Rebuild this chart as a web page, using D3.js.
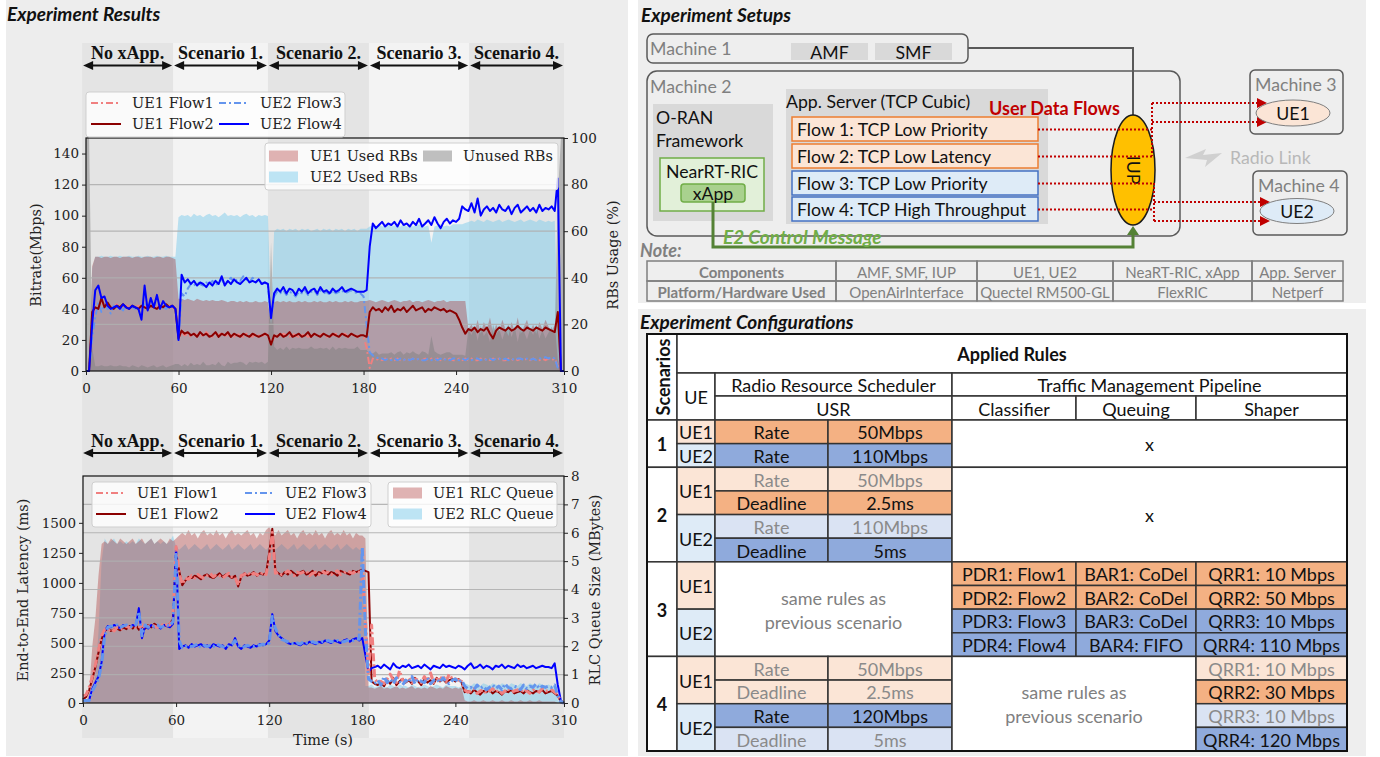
<!DOCTYPE html>
<html>
<head>
<meta charset="utf-8">
<script src="https://cdn.jsdelivr.net/npm/d3@7"></script>
<style>
  body { margin: 0; background: #fff; }
  svg { display: block; }
</style>
</head>
<body>
<svg id="fig" width="1380" height="757"></svg>
<script>
// ---------------------------------------------------------------- data
var TIME_S = [
  0,2,4,6,8,10,12,14,16,18,20,22,24,26,28,30,32,34,36,38,40,42,44,46,48,50,52,54,56,58,
  60,62,64,66,68,70,72,74,76,78,80,82,84,86,88,90,92,94,96,98,100,102,104,106,108,110,112,114,116,118,
  120,122,124,126,128,130,132,134,136,138,140,142,144,146,148,150,152,154,156,158,160,162,164,166,168,170,172,174,176,178,
  180,182,184,186,188,190,192,194,196,198,200,202,204,206,208,210,212,214,216,218,220,222,224,226,228,230,232,234,236,238,
  240,242,244,246,248,250,252,254,256,258,260,262,264,266,268,270,272,274,276,278,280,282,284,286,288,290,292,294,296,298,
  300,302,304,306,308,310
];

var SCENARIO_LABELS = ["No xApp.", "Scenario 1.", "Scenario 2.", "Scenario 3.", "Scenario 4."];
var SCENARIO_EDGES_S = [-2.5, 56.5, 118, 183.5, 248.5, 310];
var TIME_TICKS = [0, 60, 120, 180, 240, 310];
var RATE_TICKS = [0, 20, 40, 60, 80, 100, 120, 140];
var RB_TICKS = [0, 20, 40, 60, 80, 100];
var LAT_TICKS = [0, 250, 500, 750, 1000, 1250, 1500];
var RLC_TICKS = [0, 1, 2, 3, 4, 5, 6, 7, 8];

// bitrate (Mbps)
var RATE_UE1_FLOW1 = [
  0,0,32,40,42,44,43,40,42,41, 43,40,42,41,43,40,41,42,40,42, 41,43,40,41,42,40,41,42,41,40,
  21,25,23,24,22,24,23,24,22,25, 23,22,24,23,25,22,24,23,22,24, 23,22,24,23,22,24,23,22,24,23,
  18,22,23,22,24,23,22,24,23,22, 23,24,22,23,24,22,23,24,22,23, 23,24,22,23,24,22,23,24,22,23,
  22,15,2,8,7,8,7,8,7,8, 7,8,7,7,8,7,8,7,8,7, 8,7,8,7,8,7,8,7,8,7,
  7,8,7,8,7,8,7,7,8,7, 8,7,8,7,8,7,7,8,7,8, 7,8,7,8,7,8,7,7,8,7,
  8,7,8,3,0,0];
var RATE_UE1_FLOW2 = [
  0,0,38,41,40,47,41,44,41,40, 42,41,43,41,40,42,41,40,42,41, 40,42,41,40,42,41,43,41,42,40,
  21,26,24,25,23,24,22,25,23,24, 22,23,25,22,24,23,25,22,24,23, 22,24,23,22,24,23,22,23,24,23,
  17,23,22,24,22,23,25,22,23,24, 22,23,25,22,24,23,22,24,23,22, 24,23,22,24,23,22,24,23,22,23,
  23,22,38,41,39,40,38,41,39,42, 38,40,39,41,38,40,42,39,40,41, 38,40,39,41,40,39,40,38,39,38,
  37,33,28,24,27,26,28,25,27,26, 28,24,21,26,28,27,26,28,26,27, 29,27,26,28,27,26,28,27,26,28,
  27,26,25,38,0,0];
var RATE_UE2_FLOW3 = [
  0,0,22,35,44,38,43,40,37,42, 40,41,39,42,40,41,40,42,39,43, 40,42,41,40,42,41,40,42,41,40,
  20,50,48,53,56,55,57,56,55,57, 56,58,55,57,59,56,58,60,57,59, 58,61,59,57,60,58,57,56,57,55,
  35,48,51,50,52,49,51,50,48,51, 50,52,49,51,52,49,52,50,51,49, 52,50,51,52,50,51,52,51,50,50,
  48,30,12,10,9,8,8,7,8,7, 8,7,8,7,8,7,8,7,8,7, 7,8,7,8,7,8,7,8,7,8,
  8,7,8,7,8,7,8,8,7,8, 7,8,7,8,8,7,8,7,8,7, 8,8,7,8,7,8,7,8,8,9,
  8,9,8,2,0,0];
var RATE_UE2_FLOW4 = [
  0,0,30,52,55,47,48,42,40,41, 42,40,43,41,40,42,41,40,33,55, 39,47,41,49,40,45,42,41,42,40,
  20,62,57,59,56,58,55,57,56,54, 57,55,58,56,61,55,58,56,59,57, 56,58,60,57,58,57,59,56,57,56,
  34,50,53,51,54,50,53,52,49,53, 51,54,50,52,53,50,54,51,52,50, 53,51,52,54,51,52,53,52,51,51,
  51,52,80,95,92,94,96,93,95,94, 96,93,97,94,95,93,96,94,98,93, 95,97,94,99,95,92,96,98,95,97,
  96,98,106,104,103,108,102,111,100,104, 106,103,105,102,107,104,103,106,101,105, 107,102,104,106,103,105,102,107,103,105,
  104,106,103,124,0,0];

// resource block usage (%)
var RB_UE1 = [
  0,0,45,49,49,48.5,49,49,48.5,49, 49,48.5,49,49,49,48.5,49,49,48.5,49, 49,49,48.5,49,49,48.5,49,49,48.5,48,
  31,31,30.5,31,30.5,30,31,30.5,30,30.5, 30,30.5,30,30,30.5,30,29.5,30,30,29.5, 30,29.5,30,29.5,29.5,30,29.5,29.5,30,29.5,
  20,29.5,30,29.5,30,29.5,30,29.5,29.5,30, 29.5,30,29.5,29.5,30,29.5,30,29.5,29.5,30, 29.5,30,29.5,29.5,30,29.5,30,29.5,29.5,30,
  30,30,30.5,30,29.5,30,30.5,30,29.5,30, 30.5,30,29.5,30,30,30.5,29.5,30,30,29.5, 30,30.5,30,29.5,30,30,30.5,29.5,30,30,
  30,30,30,30,18,20,17,22,16,21, 18,23,16,20,17,22,18,15,21,17, 23,16,19,22,17,20,16,21,18,22,
  19,17,20,5,0,0];
var RB_UE2 = [
  0,0,44,49,49,49.5,49,49,49.5,49, 49,49.5,49,49,49.5,49,49,49.5,49,49, 49.5,49,49,49.5,49,49,49.5,49,49,49,
  66,67,66.5,67,66,67.5,66.5,67,66,67, 67.5,66.5,67,66,67,68,66.5,67,66.5,67, 66,67,67.5,66.5,67,66,67,66.5,67,66.5,
  25,60,61,60.5,61,60,61,60.5,61,60, 61,60.5,61,60,60.5,61,60,61,60.5,61, 60,61,60.5,61,60,61,60.5,61,60,61,
  61,61,62,62.5,62,63,62,62.5,63,62, 62.5,62,62,63,62,62.5,62,62.5,63,62, 62,62.5,55,62,62.5,63,62,62.5,62,63,
  63,63,63,63.5,64,64.5,64,65,64.5,64, 65,64.5,64,64.5,65,64,64.5,65,64.5,64, 64.5,65,64,64.5,65,64.5,64,65,64.5,64,
  64.5,64,64.5,20,0,0];
var RB_UNUSED = [
  100,100,10,2,2,2.5,2,2,2.5,2, 2,2.5,2,2,1.5,2.5,2,1.5,2.5,2, 1.5,2,2.5,1.5,2,2.5,1.5,2,2.5,3,
  3,2,3,2,3.5,2.5,3,2.5,4,2.5, 2.5,3,2.5,4,2.5,2,4,3,3.5,3.5, 4,3.5,2.5,4,3.5,4,3.5,4,3,4,
  55,10.5,9,10,9,10.5,9,10,9.5,10, 9.5,9.5,9.5,10.5,9.5,9.5,10,9.5,10,9, 10.5,9,10,9.5,10,9.5,9.5,9.5,10.5,9,
  9,9,7.5,7.5,8.5,7,7.5,7.5,7.5,8, 7,8,8.5,7,8,7.5,8.5,7.5,7,8.5, 8,7,15,8.5,7.5,7,7.5,8,8,7,
  7,7,7,6.5,18,15.5,19,13,19.5,15, 17,12.5,20,15.5,18,13.5,17.5,20,14.5,19, 12.5,19,17,13.5,18,15.5,20,14,17.5,14,
  16.5,19,15.5,75,100,100];

// end-to-end latency (ms)
var LAT_UE1_FLOW1 = [
  60,70,130,220,320,440,560,610,600,620, 600,630,615,620,640,625,640,630,620,650, 630,640,650,640,630,660,640,650,650,720,
  1300,1080,990,1040,1030,1060,1040,1070,1050,1040, 1060,1080,1050,1070,1060,1040,1060,1080,1050,1050, 980,1060,1070,1090,1060,1080,1070,1060,1090,1070,
  1200,1420,1080,1090,1070,1080,1100,1080,1060,1090, 1080,1090,1100,1060,1080,1090,1070,1100,1080,1090, 1070,1090,1100,1070,1080,1100,1090,1080,1100,1090,
  1080,700,250,650,200,170,180,160,200,240, 190,170,270,190,180,210,170,200,190,170, 220,180,250,170,200,190,230,180,240,200,
  200,190,180,110,90,100,120,80,100,110, 80,100,120,90,110,80,100,120,90,100, 110,90,120,100,80,110,100,90,120,100,
  100,110,90,70,10,0];
var LAT_UE1_FLOW2 = [
  30,50,110,200,300,420,530,600,620,600, 610,620,605,630,615,640,620,650,610,640, 620,650,630,660,640,630,650,640,660,700,
  1250,1100,980,1020,1050,1040,1060,1050,1030,1060, 1070,1050,1040,1060,1080,1050,1070,1060,1040,1060, 970,1050,1080,1060,1070,1090,1060,1080,1070,1080,
  1250,1450,1100,1080,1060,1090,1070,1100,1080,1060, 1090,1100,1070,1080,1100,1060,1090,1080,1100,1070, 1090,1080,1060,1100,1090,1080,1070,1100,1090,1100,
  1110,1100,1090,180,160,150,170,140,190,160, 210,150,180,200,170,190,160,210,180,150, 200,170,190,160,210,180,200,170,190,200,
  180,200,170,90,100,80,110,90,70,100, 90,110,80,100,90,70,100,90,110,80, 90,100,80,110,90,80,100,90,110,80,
  90,100,80,60,10,0];
var LAT_UE2_FLOW3 = [
  20,20,20,100,150,200,320,560,630,640, 640,650,630,640,650,640,630,650,760,560, 650,630,640,640,650,630,640,650,640,680,
  1250,520,460,470,480,470,480,490,460,480, 470,480,470,490,480,470,460,480,490,520, 480,460,470,480,470,470,480,480,490,480,
  500,720,620,570,530,520,510,500,490,500, 490,510,500,500,510,500,500,510,510,520, 510,510,520,510,510,520,520,520,530,530,
  1300,600,200,180,160,190,150,220,170,200, 160,210,180,150,190,170,220,160,200,180, 170,210,160,190,200,170,210,180,160,190,
  200,170,190,140,120,130,110,150,120,140, 110,130,150,120,140,110,160,130,120,140, 130,110,150,120,140,130,160,120,140,130,
  140,130,150,60,10,0];
var LAT_UE2_FLOW4 = [
  20,20,25,120,170,220,340,600,640,630, 650,640,620,650,640,630,650,640,790,540, 640,620,650,630,640,620,650,640,630,660,
  1300,450,470,480,460,490,470,480,490,470, 480,460,490,480,470,480,450,490,480,540, 470,450,480,470,460,480,470,490,480,490,
  520,740,600,560,540,520,500,490,500,490, 480,500,490,510,500,490,510,500,520,510, 500,520,510,500,520,530,510,530,540,520,
  540,400,260,290,300,310,290,320,300,280, 330,300,290,310,300,320,290,300,310,290, 320,300,280,310,300,290,320,300,310,300,
  290,310,300,280,310,330,290,300,320,290, 310,300,280,310,300,320,290,310,300,290, 320,300,310,290,300,310,290,300,310,300,
  300,290,330,150,20,0];

// RLC queue size (MBytes)
var RLC_UE1 = [
  0,0,0.4,2.0,3.0,4.5,5.6,5.7,5.6,5.8, 5.7,5.6,5.8,5.7,5.6,5.7,5.8,5.6,5.7,5.8, 5.6,5.7,5.8,5.6,5.7,5.8,5.7,5.6,5.8,5.7,
  5.8,5.9,6.0,5.9,6.1,5.9,6.0,5.8,6.0,6.1, 5.9,6.0,5.9,6.1,5.9,6.0,5.8,6.0,6.1,5.9, 6.0,5.9,6.0,6.1,5.9,6.0,5.8,6.0,5.9,6.1,
  6.2,6.0,5.9,6.1,5.9,6.0,6.1,5.9,6.0,5.8, 6.0,6.1,5.9,6.0,5.9,6.1,5.9,6.0,5.8,6.0, 6.1,5.9,6.0,5.9,6.1,5.9,6.0,5.8,6.0,5.9,
  5.9,5.8,0.55,0.55,0.5,0.55,0.6,0.5,0.55,0.5, 0.55,0.6,0.5,0.55,0.5,0.55,0.6,0.5,0.55,0.5, 0.55,0.5,0.6,0.55,0.5,0.55,0.5,0.6,0.55,0.5,
  0.55,0.5,0.55,0.1,0.05,0.05,0.1,0.05,0.05,0.1, 0.05,0.05,0.1,0.05,0.05,0.1,0.05,0.05,0.1,0.05, 0.05,0.1,0.05,0.05,0.1,0.05,0.05,0.1,0.05,0.05,
  0.05,0.05,0.05,0,0,0];
var RLC_UE2 = [
  0,0,0,0.3,1.0,2.5,5.0,5.8,5.6,5.7, 5.8,5.6,5.7,5.6,5.7,5.6,5.7,5.6,5.8,5.7, 5.6,5.7,5.8,5.6,5.7,5.6,5.7,5.6,5.7,5.9,
  5.5,5.4,5.5,5.6,5.4,5.5,5.6,5.5,5.4,5.5, 5.6,5.4,5.5,5.6,5.5,5.4,5.5,5.6,5.4,5.5, 5.6,5.5,5.4,5.5,5.6,5.4,5.5,5.6,5.5,5.4,
  5.5,5.6,5.4,5.5,5.6,5.5,5.4,5.5,5.6,5.4, 5.5,5.6,5.5,5.4,5.5,5.6,5.4,5.5,5.6,5.5, 5.4,5.5,5.6,5.4,5.5,5.6,5.5,5.4,5.5,5.4,
  5.4,0.6,0.6,0.65,0.55,0.6,0.65,0.6,0.55,0.65, 0.6,0.55,0.65,0.6,0.6,0.55,0.65,0.6,0.55,0.6, 0.65,0.6,0.55,0.6,0.65,0.6,0.55,0.65,0.6,0.6,
  0.6,0.55,0.6,0.7,0.65,0.6,0.7,0.65,0.6,0.7, 0.65,0.6,0.7,0.65,0.6,0.7,0.65,0.6,0.7,0.65, 0.6,0.7,0.65,0.6,0.7,0.65,0.6,0.7,0.65,0.6,
  0.65,0.6,0.6,0.1,0,0];

// setup notes and configuration table
var NOTE_ROWS = [
  ["Components", "AMF, SMF, IUP", "UE1, UE2", "NeaRT-RIC, xApp", "App. Server"],
  ["Platform/Hardware Used", "OpenAirInterface", "Quectel RM500-GL", "FlexRIC", "Netperf"]
];
var FLOW_NAMES = ["Flow 1: TCP Low Priority", "Flow 2: TCP Low Latency", "Flow 3: TCP Low Priority", "Flow 4: TCP High Throughput"];

// [col0, col1, row0, row1, text, style]
var CONFIG_CELLS = [
  [0,1,0,3,"Scenarios","rot"], [1,7,0,1,"Applied Rules","bold"], [1,2,1,3,"UE","plain"],
  [2,4,1,2,"Radio Resource Scheduler","plain"], [4,7,1,2,"Traffic Management Pipeline","plain"],
  [2,4,2,3,"USR","plain"], [4,5,2,3,"Classifier","plain"], [5,6,2,3,"Queuing","plain"], [6,7,2,3,"Shaper","plain"],
  [0,1,3,5,"1","bold"], [1,2,3,4,"UE1","ue1"], [2,3,3,4,"Rate","O"], [3,4,3,4,"50Mbps","O"],
  [1,2,4,5,"UE2","ue2"], [2,3,4,5,"Rate","B"], [3,4,4,5,"110Mbps","B"], [4,7,3,5,"x","plain"],
  [0,1,5,9,"2","bold"], [1,2,5,7,"UE1","ue1"], [2,3,5,6,"Rate","o"], [3,4,5,6,"50Mbps","o"],
  [2,3,6,7,"Deadline","O"], [3,4,6,7,"2.5ms","O"], [1,2,7,9,"UE2","ue2"], [2,3,7,8,"Rate","b"], [3,4,7,8,"110Mbps","b"],
  [2,3,8,9,"Deadline","B"], [3,4,8,9,"5ms","B"], [4,7,5,9,"x","plain"],
  [0,1,9,13,"3","bold"], [1,2,9,11,"UE1","ue1"], [1,2,11,13,"UE2","ue2"], [2,4,9,13,"same rules as\nprevious scenario","gray"],
  [4,5,9,10,"PDR1: Flow1","O"], [5,6,9,10,"BAR1: CoDel","O"], [6,7,9,10,"QRR1: 10 Mbps","O"],
  [4,5,10,11,"PDR2: Flow2","O"], [5,6,10,11,"BAR2: CoDel","O"], [6,7,10,11,"QRR2: 50 Mbps","O"],
  [4,5,11,12,"PDR3: Flow3","B"], [5,6,11,12,"BAR3: CoDel","B"], [6,7,11,12,"QRR3: 10 Mbps","B"],
  [4,5,12,13,"PDR4: Flow4","B"], [5,6,12,13,"BAR4: FIFO","B"], [6,7,12,13,"QRR4: 110 Mbps","B"],
  [0,1,13,17,"4","bold"], [1,2,13,15,"UE1","ue1"], [2,3,13,14,"Rate","o"], [3,4,13,14,"50Mbps","o"],
  [2,3,14,15,"Deadline","o"], [3,4,14,15,"2.5ms","o"], [1,2,15,17,"UE2","ue2"], [2,3,15,16,"Rate","B"], [3,4,15,16,"120Mbps","B"],
  [2,3,16,17,"Deadline","b"], [3,4,16,17,"5ms","b"], [4,6,13,17,"same rules as\nprevious scenario","gray"],
  [6,7,13,14,"QRR1: 10 Mbps","o"], [6,7,14,15,"QRR2: 30 Mbps","O"], [6,7,15,16,"QRR3: 10 Mbps","b"], [6,7,16,17,"QRR4: 120 Mbps","B"]
];

// ---------------------------------------------------------------- styles
var SERIF = "'DejaVu Serif', serif";
var TIMES = "'Liberation Serif', 'Times New Roman', serif";
var SANS = "Lato, 'Open Sans', sans-serif";

var C_FLOW1 = "#f08080", C_FLOW2 = "#8b0000", C_FLOW3 = "#6495ed", C_FLOW4 = "#0000ff";
var DASHDOT = "7,3,2,3";
var C_UE1_FILL = "#a52a2a", A_UE1 = 0.36;
var C_UE2_FILL = "#87ceeb", A_UE2 = 0.55;
var C_UNUSED = "#808080", A_UNUSED = 0.5;

var svg = d3.select("#fig");

function pts(vals) { return TIME_S.map(function (t, i) { return [t, vals[i]]; }); }

// ---------------------------------------------------------------- panels
svg.append("rect").attr("x", 6).attr("y", 0).attr("width", 622).attr("height", 756).attr("fill", "#ededed");
svg.append("rect").attr("x", 638).attr("y", 0).attr("width", 728).attr("height", 303).attr("fill", "#eeeeee");
svg.append("rect").attr("x", 638).attr("y", 309).attr("width", 728).attr("height", 447).attr("fill", "#eeeeee");

function title(txt, x, y, color) {
  svg.append("text").attr("x", x).attr("y", y).text(txt)
    .attr("font-family", SANS).attr("font-size", 19).attr("font-weight", "bold").attr("font-style", "italic")
    .attr("dominant-baseline", "central").style("fill", color || "#111");
}
title("Experiment Results", 7, 13);
title("Experiment Setups", 641, 14);
title("Experiment Configurations", 640, 321);

// ---------------------------------------------------------------- left panel: scenario bands
var left = svg.append("g");
var xBand = d3.scaleLinear().domain([0, 310]).range([86, 564]);

SCENARIO_LABELS.forEach(function (lab, i) {
  var x0 = xBand(SCENARIO_EDGES_S[i]), x1 = xBand(SCENARIO_EDGES_S[i + 1]);
  left.append("rect").attr("x", x0).attr("y", 43).attr("width", x1 - x0).attr("height", 695)
    .attr("fill", i % 2 == 0 ? "#e4e4e4" : "#f3f3f3");
});

function scenarioArrows(yText, yArrow) {
  SCENARIO_LABELS.forEach(function (lab, i) {
    var x0 = xBand(SCENARIO_EDGES_S[i]) + 1, x1 = xBand(SCENARIO_EDGES_S[i + 1]) - 1;
    left.append("line").attr("x1", x0 + 6).attr("x2", x1 - 6).attr("y1", yArrow).attr("y2", yArrow)
      .attr("stroke", "#111").attr("stroke-width", 2);
    left.append("path").attr("d", "M" + x0 + "," + yArrow + "L" + (x0 + 10) + "," + (yArrow - 4.5) + "L" + (x0 + 10) + "," + (yArrow + 4.5) + "Z").attr("fill", "#111");
    left.append("path").attr("d", "M" + x1 + "," + yArrow + "L" + (x1 - 10) + "," + (yArrow - 4.5) + "L" + (x1 - 10) + "," + (yArrow + 4.5) + "Z").attr("fill", "#111");
    left.append("text").attr("x", (x0 + x1) / 2).attr("y", yText).text(lab)
      .attr("font-family", TIMES).attr("font-weight", "bold").attr("font-size", 18)
      .attr("text-anchor", "middle").attr("dominant-baseline", "central").style("fill", "#111");
  });
}
scenarioArrows(53, 65.5);
scenarioArrows(441, 453);

function styleAxis(g) {
  g.select(".domain").remove();
  g.selectAll("text").attr("font-family", SERIF).attr("font-size", 13.5).style("fill", "#222");
  g.selectAll("line").attr("stroke", "#222");
}
var fmtInt = d3.format("d");

function yLabel(txt, x, y) {
  left.append("text").attr("transform", "translate(" + x + "," + y + ") rotate(-90)").text(txt)
    .attr("font-family", SERIF).attr("font-size", 14.5).attr("text-anchor", "middle")
    .attr("dominant-baseline", "central").style("fill", "#222");
}

function lineSample(g, x, y, color, dash, width) {
  g.append("line").attr("x1", x).attr("x2", x + 30).attr("y1", y).attr("y2", y)
    .attr("stroke", color).attr("stroke-width", width).attr("stroke-dasharray", dash);
}
function legendText(g, x, y, txt) {
  g.append("text").attr("x", x).attr("y", y).text(txt).attr("font-family", SERIF).attr("font-size", 14.5)
    .attr("dominant-baseline", "central").style("fill", "#222");
}
function legendBox(g, x, y, w, h) {
  g.append("rect").attr("x", x).attr("y", y).attr("width", w).attr("height", h).attr("rx", 3)
    .attr("fill", "#fff").attr("fill-opacity", 0.82).attr("stroke", "#cfcfcf");
}
function patch(g, x, y, color, alpha) {
  g.append("rect").attr("x", x).attr("y", y - 5.5).attr("width", 29).attr("height", 11).attr("fill", "#fff");
  g.append("rect").attr("x", x).attr("y", y - 5.5).attr("width", 29).attr("height", 11)
    .attr("fill", color).attr("fill-opacity", alpha);
}

// ---------------------------------------------------------------- top chart: bitrate + RB usage
var xT = d3.scaleLinear().domain([0, 310]).range([86, 564]);
var yRate = d3.scaleLinear().domain([0, 150]).range([371, 138]);
var yRB = d3.scaleLinear().domain([0, 100]).range([371, 138]);

var gTop = left.append("g");

function rbArea(vals, color, alpha) {
  gTop.append("path").datum(pts(vals))
    .attr("d", d3.area().x(function (d) { return xT(d[0]); }).y0(yRB(0)).y1(function (d) { return yRB(d[1]); }))
    .attr("fill", color).attr("fill-opacity", alpha);
}
rbArea(RB_UE2, C_UE2_FILL, A_UE2);
rbArea(RB_UE1, C_UE1_FILL, A_UE1);
rbArea(RB_UNUSED, C_UNUSED, A_UNUSED);

RB_TICKS.slice(1, -1).forEach(function (v) {
  gTop.append("line").attr("x1", xT(0)).attr("x2", xT(310)).attr("y1", yRB(v)).attr("y2", yRB(v))
    .attr("stroke", "#b0b0b0").attr("stroke-width", 1.2).attr("opacity", 0.9);
});

function rateLine(vals, color, dash, width) {
  gTop.append("path").datum(pts(vals))
    .attr("d", d3.line().x(function (d) { return xT(d[0]); }).y(function (d) { return yRate(d[1]); }))
    .attr("fill", "none").attr("stroke", color).attr("stroke-width", width).attr("stroke-dasharray", dash)
    .attr("stroke-linejoin", "round");
}
rateLine(RATE_UE1_FLOW1, C_FLOW1, DASHDOT, 2);
rateLine(RATE_UE2_FLOW3, C_FLOW3, DASHDOT, 2);
rateLine(RATE_UE1_FLOW2, C_FLOW2, null, 2);
rateLine(RATE_UE2_FLOW4, C_FLOW4, null, 2);

gTop.append("rect").attr("x", xT(0)).attr("y", yRate(150)).attr("width", xT(310) - xT(0)).attr("height", yRate(0) - yRate(150))
  .attr("fill", "none").attr("stroke", "#111").attr("stroke-width", 1.2);

gTop.append("g").attr("transform", "translate(" + xT(0) + ",0)")
  .call(d3.axisLeft(yRate).tickValues(RATE_TICKS).tickFormat(fmtInt).tickSize(4).tickPadding(3)).call(styleAxis);
gTop.append("g").attr("transform", "translate(" + xT(310) + ",0)")
  .call(d3.axisRight(yRB).tickValues(RB_TICKS).tickFormat(fmtInt).tickSize(4).tickPadding(3)).call(styleAxis);
gTop.append("g").attr("transform", "translate(0," + yRate(0) + ")")
  .call(d3.axisBottom(xT).tickValues(TIME_TICKS).tickFormat(fmtInt).tickSize(4).tickPadding(8)).call(styleAxis);

yLabel("Bitrate(Mbps)", 36, 255);
yLabel("RBs Usage (%)", 613, 255);

var lgT = gTop.append("g");
legendBox(lgT, 86, 92, 259, 45);
lineSample(lgT, 91, 103, C_FLOW1, DASHDOT, 2); legendText(lgT, 132, 103, "UE1 Flow1");
lineSample(lgT, 91, 124, C_FLOW2, null, 2); legendText(lgT, 132, 124, "UE1 Flow2");
lineSample(lgT, 219, 103, C_FLOW3, DASHDOT, 2); legendText(lgT, 260, 103, "UE2 Flow3");
lineSample(lgT, 219, 124, C_FLOW4, null, 2); legendText(lgT, 260, 124, "UE2 Flow4");

var lgR = gTop.append("g");
legendBox(lgR, 265, 143, 293, 47);
patch(lgR, 269, 156, C_UE1_FILL, A_UE1); legendText(lgR, 310, 156, "UE1 Used RBs");
patch(lgR, 269, 177, C_UE2_FILL, A_UE2); legendText(lgR, 310, 177, "UE2 Used RBs");
patch(lgR, 423, 156, C_UNUSED, A_UNUSED); legendText(lgR, 463, 156, "Unused RBs");

// ---------------------------------------------------------------- bottom chart: latency + RLC queue
var xB = d3.scaleLinear().domain([0, 310]).range([83, 564]);
var yLat = d3.scaleLinear().domain([0, 1890]).range([703, 476]);
var yRLC = d3.scaleLinear().domain([0, 8]).range([703, 476]);

var gBot = left.append("g");

function rlcArea(vals, color, alpha) {
  gBot.append("path").datum(pts(vals))
    .attr("d", d3.area().x(function (d) { return xB(d[0]); }).y0(yRLC(0)).y1(function (d) { return yRLC(d[1]); }))
    .attr("fill", color).attr("fill-opacity", alpha);
}
rlcArea(RLC_UE2, C_UE2_FILL, A_UE2);
rlcArea(RLC_UE1, C_UE1_FILL, A_UE1);

RLC_TICKS.slice(1, -1).forEach(function (v) {
  gBot.append("line").attr("x1", xB(0)).attr("x2", xB(310)).attr("y1", yRLC(v)).attr("y2", yRLC(v))
    .attr("stroke", "#b0b0b0").attr("stroke-width", 1.2).attr("opacity", 0.9);
});

function latLine(vals, color, dash, width) {
  gBot.append("path").datum(pts(vals))
    .attr("d", d3.line().x(function (d) { return xB(d[0]); }).y(function (d) { return yLat(d[1]); }))
    .attr("fill", "none").attr("stroke", color).attr("stroke-width", width).attr("stroke-dasharray", dash)
    .attr("stroke-linejoin", "round");
}
latLine(LAT_UE1_FLOW2, C_FLOW2, null, 2);
latLine(LAT_UE2_FLOW4, C_FLOW4, null, 2);
latLine(LAT_UE1_FLOW1, C_FLOW1, "8,3,2,3", 3);
latLine(LAT_UE2_FLOW3, C_FLOW3, "8,3,2,3", 3);

gBot.append("rect").attr("x", xB(0)).attr("y", yLat(1890)).attr("width", xB(310) - xB(0)).attr("height", yLat(0) - yLat(1890))
  .attr("fill", "none").attr("stroke", "#111").attr("stroke-width", 1.2);

gBot.append("g").attr("transform", "translate(" + xB(0) + ",0)")
  .call(d3.axisLeft(yLat).tickValues(LAT_TICKS).tickFormat(fmtInt).tickSize(4).tickPadding(3)).call(styleAxis);
gBot.append("g").attr("transform", "translate(" + xB(310) + ",0)")
  .call(d3.axisRight(yRLC).tickValues(RLC_TICKS).tickFormat(fmtInt).tickSize(4).tickPadding(3)).call(styleAxis);
gBot.append("g").attr("transform", "translate(0," + yLat(0) + ")")
  .call(d3.axisBottom(xB).tickValues(TIME_TICKS).tickFormat(fmtInt).tickSize(4).tickPadding(8)).call(styleAxis);

yLabel("End-to-End Latency (ms)", 23, 590);
yLabel("RLC Queue Size (MBytes)", 595, 590);
left.append("text").attr("x", 323).attr("y", 740).text("Time (s)").attr("font-family", SERIF).attr("font-size", 14.5)
  .attr("text-anchor", "middle").attr("dominant-baseline", "central").style("fill", "#222");

var lgB = gBot.append("g");
legendBox(lgB, 92, 482, 279, 45);
lineSample(lgB, 96, 493, C_FLOW1, DASHDOT, 2); legendText(lgB, 137, 493, "UE1 Flow1");
lineSample(lgB, 96, 514, C_FLOW2, null, 2); legendText(lgB, 137, 514, "UE1 Flow2");
lineSample(lgB, 245, 493, C_FLOW3, DASHDOT, 2); legendText(lgB, 285, 493, "UE2 Flow3");
lineSample(lgB, 245, 514, C_FLOW4, null, 2); legendText(lgB, 285, 514, "UE2 Flow4");

var lgQ = gBot.append("g");
legendBox(lgQ, 388, 482, 169, 45);
patch(lgQ, 393, 493, C_UE1_FILL, A_UE1); legendText(lgQ, 433, 493, "UE1 RLC Queue");
patch(lgQ, 393, 514, C_UE2_FILL, A_UE2); legendText(lgQ, 433, 514, "UE2 RLC Queue");

// ---------------------------------------------------------------- right-top: setup diagram
var dg = svg.append("g");
var DG_SIZE = 17.7;

function box(x, y, w, h, fill, stroke, rx, sw) {
  dg.append("rect").attr("x", x).attr("y", y).attr("width", w).attr("height", h).attr("rx", rx || 0)
    .attr("fill", fill || "none").attr("stroke", stroke || "none").attr("stroke-width", sw || 1.5);
}
function label(txt, x, y, opt) {
  opt = opt || {};
  var t = dg.append("text").attr("x", x).attr("y", y).text(txt)
    .attr("font-family", SANS).attr("font-size", opt.size || DG_SIZE)
    .attr("text-anchor", opt.anchor || "start").attr("dominant-baseline", "central")
    .style("fill", opt.color || "#111");
  if (opt.bold) t.attr("font-weight", "bold");
  if (opt.italic) t.attr("font-style", "italic");
  if (opt.transform) t.attr("transform", opt.transform);
  return t;
}

// machine 1
box(647, 34, 321, 29, null, "#595959", 6);
label("Machine 1", 650, 48, { color: "#808080" });
box(791, 43, 77, 17, "#d9d9d9");
label("AMF", 829.5, 52, { anchor: "middle" });
box(875, 43, 77, 17, "#d9d9d9");
label("SMF", 913.5, 52, { anchor: "middle" });
dg.append("path").attr("d", "M968,48H1133V116").attr("fill", "none").attr("stroke", "#595959").attr("stroke-width", 2);

// machine 2
box(647, 71, 533, 165, null, "#595959", 10);
label("Machine 2", 650, 86, { color: "#808080" });
box(653, 104, 120, 117, "#d9d9d9");
label("O-RAN", 656, 117);
label("Framework", 656, 140);
box(660, 158, 104, 53, "#e2f0d9", "#70ad47");
label("NearRT-RIC", 712, 171, { anchor: "middle" });
box(681, 184, 64, 18, "#a9d18e", "#70ad47", 3);
label("xApp", 713, 193, { anchor: "middle" });

box(786, 89, 262, 135, "#d9d9d9");
label("App. Server (TCP Cubic)", 786, 101);
label("User Data Flows", 989, 108, { bold: true, color: "#c00000", size: 18 });

var flowY = [117, 144, 171, 197];
FLOW_NAMES.forEach(function (f, i) {
  var ue1 = i < 2;
  box(792, flowY[i], 246, 24, ue1 ? "#fbe5d6" : "#deebf7", ue1 ? "#ed7d31" : "#4472c4", 0, 1.5);
  label(f, 797, flowY[i] + 12.5);
});

// IUP
dg.append("ellipse").attr("cx", 1133).attr("cy", 170).attr("rx", 22).attr("ry", 55)
  .attr("fill", "#ffc000").attr("stroke", "#1a1a1a").attr("stroke-width", 1.5);
label("IUP", 1133, 170, { anchor: "middle", transform: "rotate(90,1133,170)" });

// user data flows (dotted)
var red = "#c00000";
function dotted(d) {
  dg.append("path").attr("d", d).attr("fill", "none").attr("stroke", red).attr("stroke-width", 2).attr("stroke-dasharray", "2,2");
}
flowY.forEach(function (y) { dotted("M1038," + (y + 12.5) + "H1153"); });
dotted("M1152,103V156");
dotted("M1154,183V221");
[[103, 1152, 1267], [122, 1152, 1267], [202, 1154, 1270], [221, 1154, 1270]].forEach(function (a) {
  dotted("M" + a[1] + "," + a[0] + "H" + (a[2] - 8));
  dg.append("path").attr("d", "M" + a[2] + "," + a[0] + "l-10,-5v10z").attr("fill", red);
});

// E2 control message
dg.append("path").attr("d", "M713,202V247H1133V234").attr("fill", "none").attr("stroke", "#548235").attr("stroke-width", 3);
dg.append("path").attr("d", "M1133,226l-6,9h12z").attr("fill", "#548235");
label("E2 Control Message", 723, 236, { bold: true, italic: true, color: "#70ad47", size: 19 });

// radio link
dg.append("path").attr("d", "M1185,158L1206,149L1203,155L1222,153L1205,167L1207,160Z").attr("fill", "#d0d0d0");
label("Radio Link", 1230, 157, { color: "#b8b8b8" });

// machines 3 / 4
box(1250, 70, 93, 64, null, "#595959", 5);
label("Machine 3", 1255, 84, { color: "#808080" });
dg.append("ellipse").attr("cx", 1293).attr("cy", 113).attr("rx", 37).attr("ry", 13).attr("fill", "#fbe5d6").attr("stroke", "#7f7f7f");
label("UE1", 1293, 113, { anchor: "middle" });
box(1253, 171, 94, 64, null, "#595959", 5);
label("Machine 4", 1258, 185, { color: "#808080" });
dg.append("ellipse").attr("cx", 1297).attr("cy", 211).attr("rx", 37).attr("ry", 12.5).attr("fill", "#deebf7").attr("stroke", "#7f7f7f");
label("UE2", 1297, 211, { anchor: "middle" });

// note table
label("Note:", 640, 250, { bold: true, italic: true, color: "#808080", size: 18 });
var noteX = [647, 836, 977, 1113, 1252, 1343];
var noteY = [261, 281, 301];
NOTE_ROWS.forEach(function (row, r) {
  row.forEach(function (txt, c) {
    box(noteX[c], noteY[r], noteX[c + 1] - noteX[c], noteY[r + 1] - noteY[r], null, "#7f7f7f", 0, 1.5);
    label(txt, (noteX[c] + noteX[c + 1]) / 2, (noteY[r] + noteY[r + 1]) / 2 + 0.5,
      { anchor: "middle", color: "#808080", size: 15, bold: c == 0 });
  });
});

// ---------------------------------------------------------------- right-bottom: configuration table
var tb = svg.append("g");
var colX = [647, 677, 715, 828, 952, 1076, 1196, 1347];
function rowY(r) { return r <= 3 ? [334, 373, 396, 420][r] : 420 + (r - 3) * 331 / 14; }
var CELL_STYLE = {
  plain: { fill: "#fff", color: "#111" }, bold: { fill: "#fff", color: "#111", bold: true },
  rot: { fill: "#fff", color: "#111", bold: true }, gray: { fill: "#fff", color: "#808080" },
  ue1: { fill: "#fbe5d6", color: "#111" }, ue2: { fill: "#deebf7", color: "#111" },
  O: { fill: "#f4b183", color: "#111" }, o: { fill: "#fbe5d6", color: "#8a8a8a" },
  B: { fill: "#8faadc", color: "#111" }, b: { fill: "#dae3f3", color: "#8a8a8a" }
};
CONFIG_CELLS.forEach(function (c) {
  var st = CELL_STYLE[c[5]];
  var x0 = colX[c[0]], x1 = colX[c[1]], y0 = rowY(c[2]), y1 = rowY(c[3]);
  tb.append("rect").attr("x", x0).attr("y", y0).attr("width", x1 - x0).attr("height", y1 - y0)
    .attr("fill", st.fill).attr("stroke", "#333").attr("stroke-width", 1.5);
  var cx = (x0 + x1) / 2, cy = (y0 + y1) / 2;
  var lines = c[4].split("\n");
  lines.forEach(function (ln, k) {
    var t = tb.append("text").attr("x", cx).attr("y", cy + (k - (lines.length - 1) / 2) * 24 + 0.5).text(ln)
      .attr("font-family", SANS).attr("font-size", 18).attr("text-anchor", "middle")
      .attr("dominant-baseline", "central").style("fill", st.color);
    if (st.bold) t.attr("font-weight", "bold");
    if (c[5] == "rot") t.attr("transform", "rotate(-90," + cx + "," + cy + ")");
  });
});
tb.append("rect").attr("x", colX[0]).attr("y", rowY(0)).attr("width", colX[7] - colX[0]).attr("height", rowY(17) - rowY(0))
  .attr("fill", "none").attr("stroke", "#111").attr("stroke-width", 2);
</script>
</body>
</html>
